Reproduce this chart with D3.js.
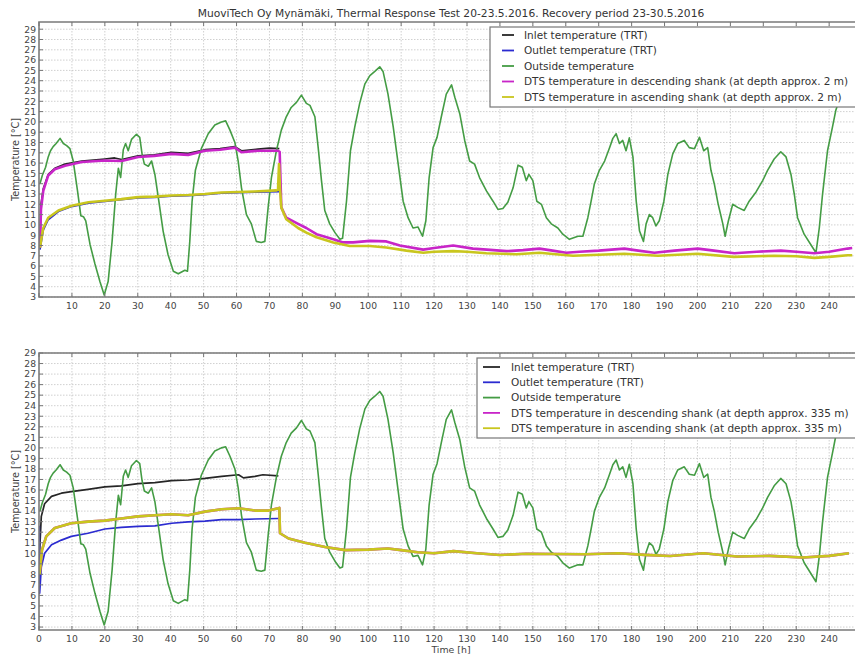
<!DOCTYPE html>
<html>
<head>
<meta charset="utf-8">
<script src="https://cdn.jsdelivr.net/npm/d3@7"></script>
<style>
  body { margin: 0; background: #fff; }
  svg { display: block; font-family: "DejaVu Sans", sans-serif; }
  .grid line { stroke: #c4c4c4; stroke-width: 0.8; stroke-dasharray: 1.5,1.5; }
  .tick-label { font-size: 9.2px; fill: #444; }
  .frame { fill: none; stroke: #7a7a7a; stroke-width: 1.6; }
  .series { fill: none; stroke-linejoin: round; }
</style>
</head>
<body>
<svg id="chart" width="855" height="657"></svg>
<script>
// ---- data: [time h, temperature °C] ----
var outsideTemp = [[0.3,14.0],[1,14.8],[2,15.6],[2.8,16.6],[3.5,17.2],[4.3,17.6],[5.2,17.9],[6.4,18.4],[7.4,17.9],[8.4,17.7],[9.4,17.4],[10.4,16.2],[11.7,13.3],[12.7,10.9],[13.5,10.8],[14.2,10.4],[15.5,8.1],[17,6.2],[18.5,4.5],[19.8,3.2],[21,4.5],[22.2,8.4],[23.3,13.0],[24.1,15.5],[24.8,14.6],[25.6,17.3],[26.3,17.9],[27.1,17.2],[28.1,18.3],[29.6,18.8],[30.6,18.5],[31.3,16.9],[32,15.9],[33.2,15.7],[34.2,16.2],[35.2,14.9],[36.4,12.3],[37.7,9.4],[39.2,7.1],[40.8,5.5],[42.3,5.25],[44.3,5.6],[45.1,5.5],[45.8,8.4],[46.5,12.3],[47.5,15.3],[49.3,17.4],[51.4,18.85],[53.4,19.7],[55.4,20.0],[56.7,20.1],[58,19.2],[59.5,18.0],[60.5,16.2],[61.5,13.6],[63,11.0],[64.5,10.1],[66,8.4],[67.5,8.3],[68.6,8.4],[69.6,11.7],[70.6,14.6],[72.1,17.2],[73.6,19.2],[75.1,20.5],[76.6,21.4],[78.2,21.9],[79.7,22.6],[81.2,21.8],[82.3,21.6],[83.8,20.5],[84.8,17.5],[85.8,14.3],[86.8,11.4],[88.3,10.1],[89.9,9.25],[91.4,8.6],[92.2,8.7],[93.4,12.3],[94.6,17.2],[95.9,19.5],[97.4,21.8],[99,23.7],[100.5,24.5],[102,24.9],[103.5,25.35],[104.5,24.9],[106,22.7],[107.6,19.5],[109.1,15.9],[110.6,12.3],[112.1,10.7],[113.6,9.7],[115.1,9.8],[116.5,8.9],[117.5,10.4],[118.5,14.6],[119.7,17.5],[120.9,18.5],[122.2,20.5],[123.7,22.7],[125.3,23.6],[126.3,22.4],[127.8,20.8],[129.3,18.2],[130.8,16.2],[132.3,15.9],[133.8,14.6],[135.9,13.3],[137.9,12.3],[139.4,11.5],[140.9,11.6],[142.4,12.2],[144,13.6],[145.5,15.8],[146.8,15.6],[148,14.3],[148.8,14.9],[150,14.3],[151.2,12.3],[152.6,12.0],[154.1,10.7],[155.6,10.1],[157.6,9.7],[159.1,9.1],[161.1,8.6],[163.7,8.9],[165.2,8.9],[166.7,10.7],[167.7,12.3],[168.7,14.0],[170.2,15.3],[171.8,16.2],[173.3,17.5],[174.3,18.4],[175.3,18.85],[176.3,17.9],[177.3,18.2],[178.3,17.2],[179.3,18.45],[180.4,16.6],[181.4,12.3],[182.4,9.4],[183.6,8.4],[184.4,10.1],[185.4,11.0],[186.4,10.7],[187.4,9.9],[188.4,10.4],[189.8,12.3],[191,14.9],[192.5,16.9],[194,17.9],[196,18.2],[197.5,17.5],[199.1,17.4],[200.6,18.5],[201.9,17.2],[203.1,17.5],[204.1,15.3],[205.1,14.0],[206.3,12.0],[207.7,10.1],[208.4,8.9],[209.4,10.4],[210.7,12.0],[212.2,11.7],[214.2,11.4],[215.7,12.3],[217.8,13.2],[219.8,14.3],[221.3,15.3],[223.3,16.4],[225.3,17.1],[226.9,16.6],[228.4,14.9],[229.4,13.0],[230.4,10.7],[232.4,9.1],[234.4,8.1],[236,7.3],[237,9.7],[238,13.0],[239.5,17.2],[241,19.5],[242,21.1],[242.4,21.5]];

// 2 m panel
var inletTop = [[0.3,8.0],[0.6,12.0],[1.3,13.5],[2.8,14.9],[4.8,15.5],[7.9,15.9],[13,16.2],[20,16.4],[23,16.5],[25.1,16.35],[30.1,16.7],[35,16.8],[40.2,17.05],[45.3,16.95],[50.4,17.3],[55,17.4],[59.5,17.6],[61.5,17.2],[66.5,17.35],[70,17.45],[73,17.4]];
var outletTop = [[0.3,7.6],[1.3,9.5],[2.8,10.5],[5.9,11.3],[9.9,11.78],[15,12.12],[20,12.28],[25,12.44],[30.1,12.63],[35.2,12.68],[40.2,12.78],[45.3,12.84],[50.4,12.93],[55.4,13.08],[60.5,13.13],[65.5,13.18],[73,13.24]];
var descTop = [[0.3,7.8],[0.6,11.5],[1.3,13.3],[2.8,14.8],[4.8,15.4],[7.9,15.75],[13,16.1],[20,16.25],[25.1,16.2],[30.1,16.6],[35,16.7],[40.2,16.9],[45.3,16.8],[50.4,17.2],[55,17.3],[59.5,17.5],[61.5,17.05],[66.5,17.2],[72.6,17.2],[73.1,17.1],[73.6,11.7],[75.1,10.7],[78.7,10.1],[81.2,9.7],[84.3,9.1],[89.4,8.6],[92.4,8.3],[95.4,8.3],[100.5,8.45],[105.5,8.4],[109.6,8.0],[116.7,7.6],[120,7.75],[125.8,8.0],[131.8,7.7],[136,7.6],[142,7.45],[147,7.55],[152,7.7],[156,7.5],[160.1,7.3],[164.2,7.4],[170,7.5],[177.8,7.7],[182,7.5],[186.9,7.3],[193,7.5],[200.1,7.7],[205,7.5],[211.2,7.25],[218,7.4],[225.3,7.5],[230,7.4],[235.5,7.25],[240,7.4],[245.6,7.7],[247,7.75]];
var ascTop = [[0.3,7.8],[0.7,8.6],[1.3,9.7],[2.8,10.7],[5.9,11.4],[9.9,11.85],[15,12.2],[20,12.35],[25,12.5],[30.1,12.7],[35.2,12.75],[40.2,12.85],[45.3,12.9],[50.4,13.0],[55.4,13.15],[60.5,13.2],[65.5,13.25],[72.1,13.35],[72.6,13.4],[72.9,15.9],[73.2,13.5],[73.6,11.7],[75.1,10.55],[78.7,9.7],[81.2,9.25],[84.3,8.8],[89.4,8.3],[94.4,7.95],[100.5,7.95],[105.5,7.8],[111.6,7.5],[116.7,7.3],[120,7.4],[125.8,7.45],[130,7.4],[135.9,7.25],[145,7.15],[152,7.3],[157,7.15],[162.2,7.0],[170,7.1],[177.8,7.2],[188,7.0],[200,7.2],[211,6.9],[223.3,7.0],[230,6.95],[235.5,6.8],[240,6.9],[245.6,7.05],[247,7.05]];

// 335 m panel
var inletBot = [[0.1,7.8],[0.2,10.3],[0.7,13.5],[1.7,14.7],[3.8,15.4],[6.8,15.7],[9.8,15.85],[14.9,16.07],[20,16.3],[25,16.4],[30.1,16.6],[35.2,16.7],[40.3,16.9],[45.3,16.95],[50.4,17.1],[55.5,17.3],[60.6,17.45],[62.1,17.15],[65.6,17.3],[68,17.45],[72.7,17.35]];
var outletBot = [[0.1,12.6],[0.2,6.2],[0.7,8.7],[1.7,10.0],[3.8,10.8],[6.8,11.25],[9.8,11.6],[14.9,11.9],[20,12.3],[25,12.45],[30.1,12.55],[35.2,12.6],[40.3,12.85],[45.3,12.97],[50.4,13.05],[55.5,13.2],[60.6,13.2],[65.6,13.25],[72.7,13.3]];
var descBot = [[0.2,8.0],[0.9,10.3],[2.2,11.6],[4.8,12.4],[9.8,12.85],[14.9,13.0],[20,13.1],[25,13.3],[30.1,13.5],[35.2,13.6],[40.3,13.7],[45.3,13.6],[50.4,13.95],[55.5,14.17],[60.6,14.27],[65.6,14.05],[69.7,14.05],[72.7,14.27],[73.0,14.3],[73.2,11.9],[75.8,11.4],[80.8,11.0],[86.9,10.6],[93,10.3],[100,10.35],[106,10.45],[110,10.3],[115,10.1],[120,10.0],[125.9,10.2],[133,10.0],[140,9.84],[148,9.95],[156,9.93],[166,9.9],[176,10.0],[184,9.85],[191.7,9.74],[201.8,10.0],[212,9.7],[222,9.75],[232,9.6],[240,9.75],[246,10.0]];
var ascBot = [[0.2,8.0],[0.9,10.3],[2.2,11.6],[4.8,12.4],[9.8,12.85],[14.9,13.0],[20,13.1],[25,13.3],[30.1,13.5],[35.2,13.6],[40.3,13.7],[45.3,13.6],[50.4,13.95],[55.5,14.17],[60.6,14.27],[65.6,14.05],[69.7,14.05],[72.7,14.27],[73.0,14.3],[73.2,11.9],[75.8,11.4],[80.8,11.0],[86.9,10.6],[93,10.3],[100,10.35],[106,10.45],[110,10.3],[115,10.1],[120,10.0],[125.9,10.2],[133,10.0],[140,9.84],[148,9.95],[156,9.93],[166,9.9],[176,10.0],[184,9.85],[191.7,9.74],[201.8,10.0],[212,9.7],[222,9.75],[232,9.6],[240,9.75],[246,10.0]];

var yTicks = d3.range(3, 30);
var xTicksTop = d3.range(10, 250, 10);
var xTicksBot = d3.range(0, 250, 10);

var seriesNames = ['Inlet temperature (TRT)', 'Outlet temperature (TRT)', 'Outside temperature',
                   'DTS temperature in descending shank (at depth approx. DEPTH)',
                   'DTS temperature in ascending shank (at depth approx. DEPTH)'];
var seriesColors = ['#262626', '#2b2bd0', '#449c44', '#c825c8', '#c9c61e'];
var seriesWidths = [1.7, 1.7, 1.6, 2.6, 2.6];

var svg = d3.select('#chart');

svg.append('text').attr('x', 451).attr('y', 17).attr('text-anchor', 'middle')
    .style('font-size', '10.7px').style('fill', '#333')
    .text('MuoviTech Oy Mynämäki, Thermal Response Test 20-23.5.2016. Recovery period 23-30.5.2016');

function drawPanel(p) {
    var x = d3.scaleLinear().domain([0, 248]).range([39, 855.5]);
    var y = d3.scaleLinear().domain(p.yDomain).range([p.bottom, p.top]);
    var g = svg.append('g');

    // grid
    var grid = g.append('g').attr('class', 'grid');
    grid.selectAll('.gy').data(yTicks).enter().append('line')
        .attr('x1', x.range()[0]).attr('x2', x.range()[1])
        .attr('y1', function(d) { return y(d); }).attr('y2', function(d) { return y(d); });
    grid.selectAll('.gx').data(xTicksBot.filter(function(d) { return d > 0; })).enter().append('line')
        .attr('y1', p.top).attr('y2', p.bottom)
        .attr('x1', function(d) { return x(d); }).attr('x2', function(d) { return x(d); });

    // series
    var line = d3.line().x(function(d) { return x(d[0]); }).y(function(d) { return y(d[1]); });
    var clipId = 'clip-' + p.id;
    svg.append('clipPath').attr('id', clipId).append('rect')
        .attr('x', 39).attr('y', p.top).attr('width', 820).attr('height', p.bottom - p.top);
    var lines = g.append('g').attr('clip-path', 'url(#' + clipId + ')');
    p.series.forEach(function(s, i) {
        lines.append('path').attr('class', 'series').attr('d', line(s))
            .attr('stroke', seriesColors[i]).attr('stroke-width', seriesWidths[i]);
    });

    // frame (left, top, bottom; right side is cut off)
    g.append('path').attr('class', 'frame')
        .attr('d', 'M860,' + p.top + 'H39V' + p.bottom + 'H860');

    // inward ticks
    var tk = g.append('g').attr('stroke', '#777').attr('stroke-width', 1);
    yTicks.forEach(function(d) {
        tk.append('line').attr('x1', 39).attr('x2', 43).attr('y1', y(d)).attr('y2', y(d));
    });
    xTicksBot.forEach(function(d) {
        tk.append('line').attr('x1', x(d)).attr('x2', x(d)).attr('y1', p.bottom).attr('y2', p.bottom - 4);
        tk.append('line').attr('x1', x(d)).attr('x2', x(d)).attr('y1', p.top).attr('y2', p.top + 4);
    });

    // tick labels
    g.selectAll('.yl').data(yTicks).enter().append('text').attr('class', 'tick-label')
        .attr('x', 36).attr('y', function(d) { return y(d) + 3.3; }).attr('text-anchor', 'end')
        .text(function(d) { return d; });
    g.selectAll('.xl').data(p.xTicks).enter().append('text').attr('class', 'tick-label')
        .attr('x', function(d) { return x(d); }).attr('y', p.bottom + 12).attr('text-anchor', 'middle')
        .text(function(d) { return d; });

    // axis label
    g.append('text').attr('transform', 'translate(19,' + ((p.top + p.bottom) / 2) + ') rotate(-90)')
        .attr('text-anchor', 'middle').style('font-size', '9.6px').style('fill', '#444')
        .text('Temperature [°C]');

    // legend
    var L = p.legend;
    var lg = g.append('g');
    lg.append('rect').attr('x', L.x).attr('y', L.y).attr('width', 400).attr('height', L.h)
        .attr('fill', '#fff').attr('stroke', '#777').attr('stroke-width', 1.2);
    seriesNames.forEach(function(name, i) {
        var yy = L.y0 + i * L.dy;
        lg.append('line').attr('x1', L.lx1).attr('x2', L.lx2).attr('y1', yy).attr('y2', yy)
            .attr('stroke', seriesColors[i]).attr('stroke-width', 1.8);
        lg.append('text').attr('x', L.tx).attr('y', yy + 3.7)
            .style('font-size', '10.5px').style('fill', '#333')
            .text(name.replace('DEPTH', p.depth));
    });
}

drawPanel({
    id: 'top', top: 22, bottom: 297, yDomain: [3, 29.7], xTicks: xTicksTop, depth: '2 m',
    series: [inletTop, outletTop, outsideTemp, descTop, ascTop],
    legend: {x: 490, y: 27, h: 80, y0: 35, dy: 15.5, lx1: 502, lx2: 514, tx: 524}
});
drawPanel({
    id: 'bot', top: 353, bottom: 630, yDomain: [2.72, 29], xTicks: xTicksBot, depth: '335 m',
    series: [inletBot, outletBot, outsideTemp, descBot, ascBot],
    legend: {x: 477, y: 358, h: 80, y0: 367, dy: 15.3, lx1: 483, lx2: 500, tx: 511}
});

svg.append('text').attr('x', 451).attr('y', 653).attr('text-anchor', 'middle')
    .style('font-size', '9.4px').style('fill', '#444').text('Time [h]');
</script>
</body>
</html>
